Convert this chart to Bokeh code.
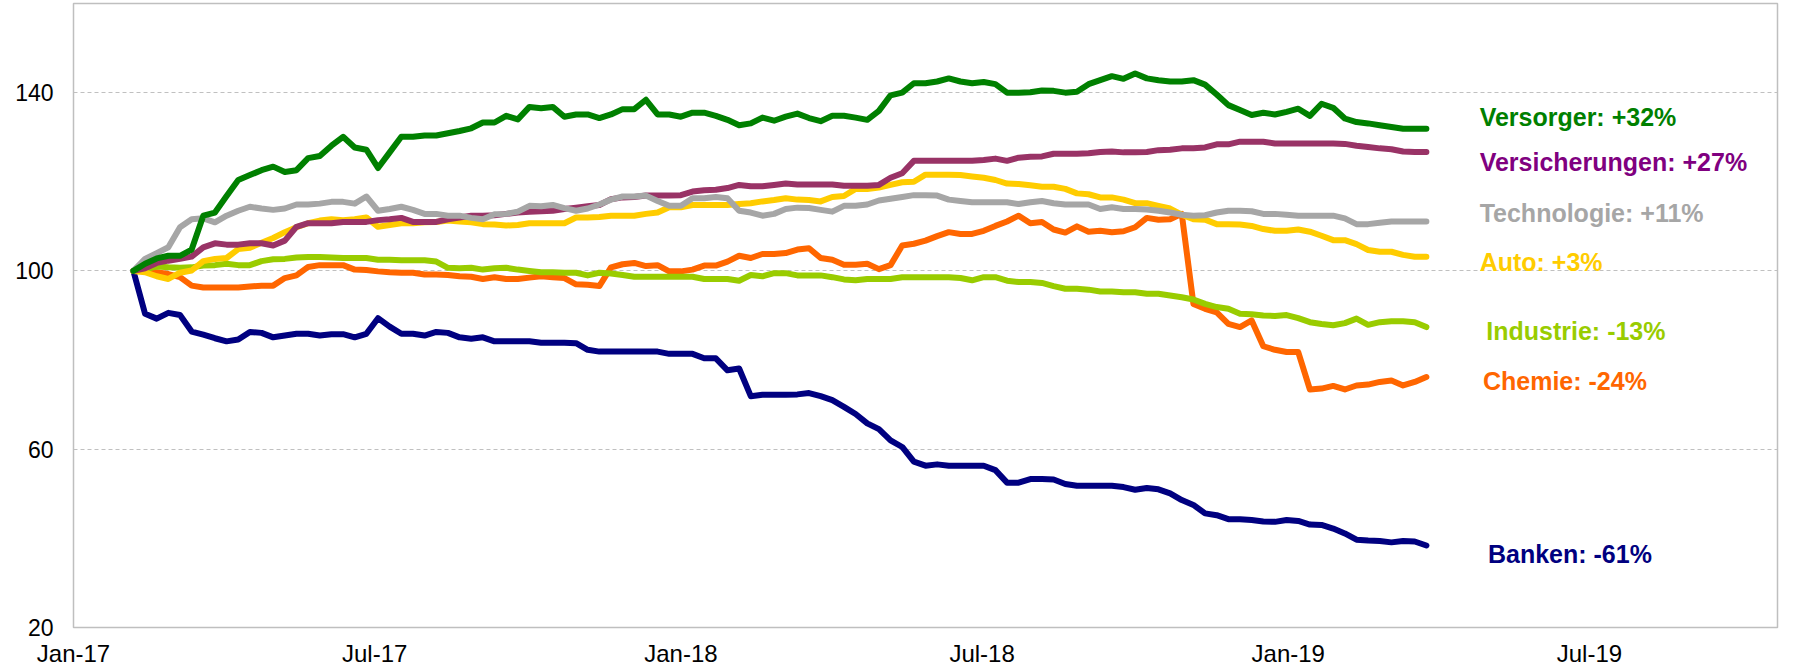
import pandas as pd
from bokeh.plotting import figure
from bokeh.models import Range1d, FixedTicker, DatetimeTickFormatter, ColumnDataSource
from bokeh.core.properties import value
from bokeh.embed import file_html
from bokeh.resources import INLINE

# ---------------- data ----------------
dates = pd.date_range("2017-02-06", periods=112, freq="7D")

versorger = [
    100, 101.6, 102.8, 103.4, 103.4, 104.8, 112.4, 113.1, 116.8, 120.4, 121.5, 122.6, 123.4, 122.2, 122.6,
    125.3, 125.8, 128.1, 130.1, 127.7, 127.2, 123.1, 126.6, 130.1, 130.1, 130.4, 130.4, 130.9, 131.4,
    132.0, 133.3, 133.3, 134.8, 134.0, 136.8, 136.5, 136.8, 134.6, 135.1, 135.1, 134.3, 135.1, 136.3,
    136.3, 138.4, 135.1, 135.1, 134.6, 135.5, 135.5, 134.8, 133.9, 132.7, 133.1, 134.4, 133.7, 134.6,
    135.3, 134.3, 133.6, 134.8, 134.8, 134.4, 133.9, 135.9, 139.4, 140.0, 142.1, 142.1, 142.5, 143.2,
    142.5, 142.1, 142.4, 141.9, 140.0, 140.0, 140.1, 140.5, 140.4, 140.0, 140.2, 141.9, 142.8, 143.7,
    143.1, 144.3, 143.2, 142.8, 142.5, 142.5, 142.8, 141.8, 139.6, 137.2, 136.1, 135.0, 135.5, 135.1,
    135.7, 136.4, 134.8, 137.5, 136.6, 134.2, 133.4, 133.1, 132.7, 132.3, 131.9, 131.9, 131.9,
]
versicherungen = [
    100, 100.6, 101.8, 102.3, 102.7, 103.2, 105.3, 106.2, 105.9, 105.9, 106.2, 106.2, 105.7, 106.8, 109.9,
    110.7, 110.7, 110.7, 111.0, 111.0, 111.0, 111.4, 111.6, 111.9, 111.0, 111.0, 111.0, 111.6, 112.0,
    112.4, 112.4, 112.5, 112.8, 113.1, 113.3, 113.4, 113.5, 113.9, 114.2, 114.5, 114.8, 116.1, 116.5,
    116.6, 116.9, 116.9, 116.9, 117.0, 117.8, 118.1, 118.2, 118.6, 119.3, 119.0, 119.0, 119.3, 119.6,
    119.4, 119.4, 119.4, 119.4, 119.1, 119.1, 119.1, 119.3, 120.9, 121.9, 124.7, 124.7, 124.7, 124.7,
    124.7, 124.7, 124.9, 125.2, 124.7, 125.4, 125.6, 125.7, 126.3, 126.3, 126.3, 126.4, 126.7, 126.8,
    126.6, 126.6, 126.7, 127.1, 127.2, 127.5, 127.5, 127.7, 128.4, 128.4, 129.0, 129.0, 129.0, 128.6,
    128.6, 128.6, 128.6, 128.6, 128.6, 128.5, 128.1, 127.8, 127.5, 127.3, 126.8, 126.7, 126.7,
]
technologie = [
    100, 102.7, 104.0, 105.3, 109.8, 111.6, 111.8, 110.9, 112.4, 113.5, 114.4, 114.0, 113.7, 114.0, 114.9,
    114.9, 115.1, 115.5, 115.5, 115.1, 116.7, 113.5, 113.9, 114.4, 113.7, 112.8, 112.8, 112.4, 112.4,
    111.9, 111.6, 112.7, 112.8, 113.3, 114.6, 114.5, 114.8, 114.1, 113.5, 114.0, 114.9, 116.0, 116.7,
    116.7, 116.9, 115.7, 114.6, 114.6, 116.3, 116.3, 116.6, 116.3, 113.5, 113.1, 112.4, 112.8, 113.9,
    114.2, 114.1, 113.7, 113.3, 114.6, 114.6, 114.9, 115.8, 116.2, 116.6, 117.0, 117.0, 116.9, 116.0,
    115.7, 115.4, 115.4, 115.4, 115.4, 115.0, 115.4, 115.7, 115.2, 114.9, 114.9, 114.9, 113.9, 114.3,
    113.9, 113.9, 113.8, 113.5, 113.1, 112.6, 112.4, 112.5, 113.1, 113.5, 113.5, 113.4, 112.8, 112.8,
    112.6, 112.4, 112.4, 112.4, 112.4, 111.8, 110.5, 110.5, 110.8, 111.1, 111.1, 111.1, 111.1,
]
auto = [
    100, 99.7, 98.8, 98.2, 99.6, 100.1, 102.2, 102.7, 102.9, 104.9, 105.2, 106.3, 107.4, 108.7, 109.8,
    110.7, 111.3, 111.6, 111.4, 111.6, 112.0, 109.9, 110.3, 110.7, 110.7, 110.9, 111.0, 111.3, 111.1,
    110.9, 110.5, 110.4, 110.2, 110.3, 110.7, 110.7, 110.7, 110.7, 112.0, 112.0, 112.1, 112.4, 112.4,
    112.4, 112.8, 113.1, 114.3, 114.3, 114.8, 114.8, 114.8, 114.8, 115.0, 115.2, 115.6, 115.9, 116.3,
    116.0, 115.9, 115.6, 116.6, 116.8, 118.4, 118.4, 118.7, 119.3, 119.9, 120.0, 121.6, 121.6, 121.6,
    121.5, 121.2, 120.9, 120.4, 119.6, 119.5, 119.2, 118.9, 118.9, 118.4, 117.4, 117.2, 116.5, 116.5,
    116.0, 115.2, 115.2, 114.6, 114.0, 112.6, 111.6, 111.5, 110.5, 110.5, 110.4, 110.1, 109.4, 109.0,
    109.0, 109.3, 108.8, 107.9, 106.9, 106.9, 106.0, 104.7, 104.3, 104.3, 103.6, 103.2, 103.2,
]
industrie = [
    100, 100.4, 101.0, 100.8, 100.7, 100.8, 101.2, 101.3, 101.6, 101.3, 101.3, 102.2, 102.6, 102.7, 103.0,
    103.1, 103.1, 103.0, 102.9, 102.9, 102.9, 102.5, 102.5, 102.4, 102.4, 102.4, 102.1, 100.7, 100.6,
    100.7, 100.3, 100.6, 100.7, 100.3, 100.0, 99.7, 99.7, 99.6, 99.6, 99.0, 99.6, 99.4, 99.1,
    98.7, 98.7, 98.7, 98.7, 98.7, 98.7, 98.2, 98.2, 98.2, 97.8, 99.1, 98.8, 99.5, 99.5,
    99.0, 99.0, 99.0, 98.6, 98.1, 97.9, 98.2, 98.2, 98.2, 98.6, 98.6, 98.6, 98.6, 98.6,
    98.4, 97.9, 98.6, 98.6, 97.8, 97.5, 97.5, 97.3, 96.6, 96.0, 96.0, 95.8, 95.4, 95.4,
    95.2, 95.2, 94.9, 94.9, 94.5, 94.1, 93.6, 92.6, 91.9, 91.5, 90.4, 90.3, 90.0, 89.9,
    90.1, 89.4, 88.5, 88.1, 87.8, 88.3, 89.3, 87.9, 88.5, 88.7, 88.7, 88.5, 87.4,
]
chemie = [
    100, 100, 99.7, 99.3, 98.6, 96.7, 96.3, 96.3, 96.3, 96.3, 96.5, 96.7, 96.7, 98.4, 99.0,
    100.9, 101.3, 101.3, 101.3, 100.3, 100.2, 99.9, 99.7, 99.6, 99.6, 99.2, 99.2, 99.1, 98.8,
    98.7, 98.2, 98.6, 98.2, 98.2, 98.5, 98.8, 98.6, 98.4, 97.0, 96.9, 96.6, 100.8, 101.5,
    101.8, 101.1, 101.3, 99.9, 99.9, 100.3, 101.2, 101.2, 102.1, 103.4, 102.9, 103.8, 103.8, 104.0,
    104.8, 105.1, 102.9, 102.5, 101.4, 101.4, 101.6, 100.4, 101.3, 105.7, 106.1, 106.8, 107.8, 108.7,
    108.3, 108.3, 109.0, 110.1, 111.1, 112.4, 110.7, 111.0, 109.3, 108.6, 110.0, 108.8, 109.0, 108.7,
    108.9, 109.8, 111.9, 111.5, 111.6, 112.8, 92.6, 91.5, 90.7, 88.1, 87.4, 88.9, 83.1, 82.3,
    81.8, 81.8, 73.4, 73.6, 74.2, 73.4, 74.3, 74.5, 75.1, 75.4, 74.3, 75.1, 76.2,
]
banken = [
    100, 90.4, 89.3, 90.6, 90.1, 86.4, 85.7, 84.9, 84.2, 84.6, 86.3, 86.1, 85.1, 85.5, 85.9,
    85.9, 85.5, 85.8, 85.8, 85.1, 85.9, 89.4, 87.5, 85.9, 85.9, 85.5, 86.3, 86.1, 85.1,
    84.8, 85.1, 84.2, 84.2, 84.2, 84.2, 83.9, 83.9, 83.9, 83.8, 82.3, 81.9, 81.9, 81.9,
    81.9, 81.9, 81.9, 81.4, 81.4, 81.4, 80.4, 80.4, 77.7, 78.1, 71.9, 72.2, 72.2, 72.2,
    72.3, 72.6, 71.9, 71.0, 69.5, 67.9, 65.8, 64.5, 62.0, 60.5, 57.2, 56.3, 56.6, 56.3,
    56.3, 56.3, 56.3, 55.3, 52.5, 52.5, 53.3, 53.3, 53.2, 52.2, 51.8, 51.8, 51.8, 51.8,
    51.5, 50.9, 51.3, 51.0, 50.1, 48.6, 47.5, 45.6, 45.2, 44.3, 44.3, 44.1, 43.8, 43.7,
    44.1, 43.9, 43.1, 43.0, 42.2, 41.1, 39.7, 39.5, 39.4, 39.1, 39.4, 39.3, 38.4,
]

series_names = ["Banken", "Chemie", "Industrie", "Auto", "Versicherungen", "Technologie", "Versorger"]
series_values = [banken, chemie, industrie, auto, versicherungen, technologie, versorger]
line_colors = ["#000080", "#FF6600", "#99CC00", "#FFCC00", "#993366", "#A6A6A6", "#008000"]

label_texts = ["Versorger: +32%", "Versicherungen: +27%", "Technologie: +11%", "Auto: +3%",
               "Industrie: -13%", "Chemie: -24%", "Banken: -61%"]
label_colors = ["#008000", "#800080", "#A6A6A6", "#FFCC00", "#99CC00", "#FF6600", "#000080"]
label_x = ["2019-04-26", "2019-04-26", "2019-04-26", "2019-04-26", "2019-04-30", "2019-04-28", "2019-05-01"]
label_y = [134.6, 124.5, 112.9, 102.1, 86.6, 75.2, 36.6]

tick_dates = ["2017-01-01", "2017-07-01", "2018-01-01", "2018-07-01", "2019-01-01", "2019-07-01"]
tick_labels = ["Jan-17", "Jul-17", "Jan-18", "Jul-18", "Jan-19", "Jul-19"]
y_ticks = [20, 60, 100, 140]

# ---------------- figure ----------------
x_start = pd.Timestamp("2017-01-01")
x_end = x_start + pd.Timedelta(days=1024)

p = figure(width=1794, height=671, x_axis_type="datetime",
           x_range=Range1d(x_start, x_end), y_range=Range1d(20, 160),
           output_backend="svg", toolbar_location=None,
           min_border_left=73, min_border_right=17, min_border_top=3, min_border_bottom=44)
p.title.visible = False

p.background_fill_color = "white"
p.border_fill_color = "white"
p.outline_line_color = "#BFBFBF"
p.outline_line_width = 1.5

for name, vals, col in zip(series_names, series_values, line_colors):
    src = ColumnDataSource(dict(x=dates, y=vals))
    p.line("x", "y", source=src, line_color=col, line_width=6,
           line_join="round", line_cap="round")

lab_src = ColumnDataSource(dict(x=pd.to_datetime(label_x), y=label_y,
                                t=label_texts, c=label_colors))
p.text("x", "y", text="t", source=lab_src, text_color="c",
       text_font=value("Liberation Sans"), text_font_style="bold",
       text_font_size="25px", text_baseline="middle", text_align="left")

# axes
tick_ms = [int(pd.Timestamp(d).timestamp() * 1000) for d in tick_dates]
p.xaxis.ticker = FixedTicker(ticks=tick_ms)
p.xaxis.formatter = DatetimeTickFormatter(months="%b-%y", years="%b-%y", days="%b-%y")
p.xaxis.major_label_overrides = {t: l for t, l in zip(tick_ms, tick_labels)}
p.yaxis.ticker = FixedTicker(ticks=y_ticks)

for ax in (p.xaxis, p.yaxis):
    ax.axis_line_color = None
    ax.major_tick_line_color = None
    ax.minor_tick_line_color = None
    ax.major_tick_out = 0
    ax.major_tick_in = 0
    ax.minor_tick_out = 0
    ax.minor_tick_in = 0
    ax.major_label_text_font = "Liberation Sans"
    ax.major_label_text_color = "black"

p.xaxis.major_label_text_font_size = "24px"
p.xaxis.major_label_standoff = 12
p.yaxis.major_label_text_font_size = "23px"
p.yaxis.major_label_standoff = 20

p.xgrid.visible = False
p.ygrid.ticker = FixedTicker(ticks=y_ticks)
p.ygrid.grid_line_color = "#C0C0C0"
p.ygrid.grid_line_dash = "4 3"
p.ygrid.grid_line_width = 1

open("out.html", "w").write(file_html(p, INLINE))
